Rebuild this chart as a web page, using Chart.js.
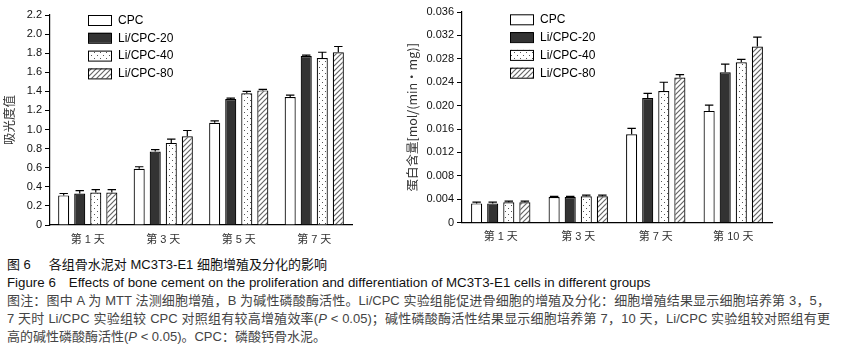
<!DOCTYPE html>
<html>
<head>
<meta charset="utf-8">
<script src="https://cdn.jsdelivr.net/npm/chart.js@4"></script>
<style>
  body { margin: 0; background: #fff; width: 846px; height: 359px; overflow: hidden; position: relative; }
  canvas { position: absolute; top: 0; }
  #chartA { left: 0; }
  #chartB { left: 390px; }
  .cap { position: absolute; left: 7px; font: 13px "Liberation Sans", "Noto Sans CJK SC", sans-serif; line-height: 18px; white-space: nowrap; color: #111; }
  .note { color: #444; width: 823px; white-space: normal; text-align: justify; text-align-last: justify; }
</style>
</head>
<body>
<canvas id="chartA" width="380" height="250"></canvas>
<canvas id="chartB" width="456" height="250"></canvas>

<div class="cap" style="top:256px">图 6<span style="margin-left:18px">各组骨水泥对 MC3T3-E1 细胞增殖及分化的影响</span></div>
<div class="cap" style="top:274px;font-size:13.3px">Figure 6<span style="margin-left:13px">Effects of bone cement on the proliferation and differentiation of MC3T3-E1 cells in different groups</span></div>
<div class="cap note" style="top:292px">图注：图中 A 为 MTT 法测细胞增殖，B 为碱性磷酸酶活性。Li/CPC 实验组能促进骨细胞的增殖及分化：细胞增殖结果显示细胞培养第 3，5，</div>
<div class="cap note" style="top:310px">7 天时 Li/CPC 实验组较 CPC 对照组有较高增殖效率(<i>P</i> &lt; 0.05)；碱性磷酸酶活性结果显示细胞培养第 7，10 天，Li/CPC 实验组较对照组有更</div>
<div class="cap" style="top:328px;color:#444">高的碱性磷酸酶活性(<i>P</i> &lt; 0.05)。CPC：磷酸钙骨水泥。</div>

<script>
// chart A: MTT (吸光度值)
const daysA = ["第 1 天", "第 3 天", "第 5 天", "第 7 天"];
const cpcA = [0.31, 0.59, 1.07, 1.34];
const li20A = [0.33, 0.77, 1.32, 1.77];
const li40A = [0.34, 0.86, 1.38, 1.75];
const li80A = [0.34, 0.93, 1.41, 1.81];
const cpcErrA = [0.02, 0.02, 0.02, 0.02];
const li20ErrA = [0.03, 0.02, 0.01, 0.01];
const li40ErrA = [0.03, 0.04, 0.02, 0.06];
const li80ErrA = [0.03, 0.06, 0.01, 0.06];

// chart B: ALP activity
const daysB = ["第 1 天", "第 3 天", "第 7 天", "第 10 天"];
const cpcB = [0.0033, 0.0044, 0.0151, 0.0191];
const li20B = [0.0033, 0.0044, 0.0213, 0.0257];
const li40B = [0.0035, 0.0045, 0.0225, 0.0274];
const li80B = [0.0035, 0.0045, 0.0248, 0.0301];
const cpcErrB = [0.0002, 0.0001, 0.0010, 0.0010];
const li20ErrB = [0.0002, 0.0001, 0.0008, 0.0014];
const li40ErrB = [0.0002, 0.0002, 0.0015, 0.0005];
const li80ErrB = [0.0002, 0.0002, 0.0005, 0.0016];

const seriesNames = ["CPC", "Li/CPC-20", "Li/CPC-40", "Li/CPC-80"];

function makeDots() {
  const c = document.createElement("canvas");
  c.width = 6; c.height = 6;
  const g = c.getContext("2d");
  g.fillStyle = "#fff"; g.fillRect(0, 0, 6, 6);
  g.fillStyle = "#555";
  g.fillRect(1, 1, 1, 1);
  g.fillRect(4, 4, 1, 1);
  return g.createPattern(c, "repeat");
}
function makeHatch() {
  const c = document.createElement("canvas");
  c.width = 5; c.height = 5;
  const g = c.getContext("2d");
  g.fillStyle = "#fff"; g.fillRect(0, 0, 5, 5);
  g.strokeStyle = "#666"; g.lineWidth = 1.2;
  g.beginPath();
  g.moveTo(0, 5); g.lineTo(5, 0);
  g.moveTo(-1, 1); g.lineTo(1, -1);
  g.moveTo(4, 6); g.lineTo(6, 4);
  g.stroke();
  return g.createPattern(c, "repeat");
}
const fills = ["#ffffff", "#333333", makeDots(), makeHatch()];

// error bars (upper only)
const errorBars = {
  id: "errorBars",
  afterDatasetsDraw(chart) {
    const ctx = chart.ctx;
    const y = chart.scales.y;
    ctx.save();
    ctx.strokeStyle = "#000";
    ctx.lineWidth = 1.2;
    chart.data.datasets.forEach((ds, i) => {
      const meta = chart.getDatasetMeta(i);
      meta.data.forEach((bar, j) => {
        const top = y.getPixelForValue(ds.data[j] + ds.errors[j]);
        const half = bar.width * 0.38;
        ctx.beginPath();
        ctx.moveTo(bar.x, bar.y);
        ctx.lineTo(bar.x, top);
        ctx.moveTo(bar.x - half, top);
        ctx.lineTo(bar.x + half, top);
        ctx.stroke();
      });
    });
    ctx.restore();
  }
};

// legend with boxes placed inside plot
const boxLegend = {
  id: "boxLegend",
  afterDraw(chart, args, opts) {
    const ctx = chart.ctx;
    ctx.save();
    ctx.font = '12px "Liberation Sans", sans-serif';
    ctx.textBaseline = "middle";
    chart.data.datasets.forEach((ds, i) => {
      const cy = opts.y + i * opts.gap;
      ctx.fillStyle = ds.backgroundColor;
      ctx.fillRect(opts.x, cy - 5, 23, 10);
      ctx.strokeStyle = "#000";
      ctx.lineWidth = 1;
      ctx.strokeRect(opts.x + 0.5, cy - 4.5, 23, 10);
      ctx.fillStyle = "#000";
      ctx.fillText(ds.label, opts.x + 30, cy + 0.5);
    });
    ctx.restore();
  }
};

function buildChart(id, labels, values, errors, yMax, yStep, decimals, title, geo) {
  const datasets = values.map((v, i) => ({
    label: seriesNames[i],
    data: v,
    errors: errors[i],
    backgroundColor: fills[i],
    borderColor: "#000",
    borderWidth: 1.2,
    categoryPercentage: geo.cat,
    barPercentage: 0.69,
  }));
  return new Chart(document.getElementById(id), {
    type: "bar",
    data: { labels: labels, datasets: datasets },
    plugins: [errorBars, boxLegend],
    options: {
      responsive: false,
      animation: false,
      layout: { padding: { left: 0, top: geo.top, right: geo.right, bottom: 0 } },
      plugins: {
        legend: { display: false },
        tooltip: { enabled: false },
        boxLegend: { x: geo.legX, y: geo.legY, gap: 17.8 },
      },
      scales: {
        x: {
          grid: { display: true, drawOnChartArea: false, drawTicks: false },
          border: { color: "#000", width: 1.2 },
          ticks: {
            color: "#333",
            padding: 8,
            font: { family: '"Liberation Sans", "Noto Sans CJK SC", sans-serif', size: 11 },
          },
          afterFit(scale) { scale.height = geo.xh; },
        },
        y: {
          min: 0,
          max: yMax,
          grid: { drawOnChartArea: false, tickLength: 5, color: "#000", lineWidth: 1 },
          border: { color: "#000", width: 1.2 },
          ticks: {
            stepSize: yStep,
            color: "#111",
            padding: 3,
            font: { family: '"Liberation Sans", sans-serif', size: 11 },
            callback: (v) => (v === 0 ? "0" : v.toFixed(decimals)),
          },
          title: {
            display: true,
            text: title,
            color: "#333",
            padding: { top: geo.titlePad, bottom: 0 },
            font: { family: '"Noto Sans CJK SC", sans-serif', size: 12.5 },
          },
          afterFit(scale) { scale.width = geo.yw; },
        },
      },
    },
  });
}

buildChart("chartA", daysA, [cpcA, li20A, li40A, li80A], [cpcErrA, li20ErrA, li40ErrA, li80ErrA],
  2.2, 0.2, 1, "吸光度值",
  { top: 15, right: 28, xh: 25, yw: 50, cat: 0.85, titlePad: 1.5, legX: 88, legY: 20 });

buildChart("chartB", daysB, [cpcB, li20B, li40B, li80B], [cpcErrB, li20ErrB, li40ErrB, li80ErrB],
  0.036, 0.004, 3, "蛋白含量[mol/(min・mg)]",
  { top: 12, right: 74, xh: 27.3, yw: 72, cat: 0.83, titlePad: 14.5, legX: 120, legY: 19.3 });
</script>
</body>
</html>
